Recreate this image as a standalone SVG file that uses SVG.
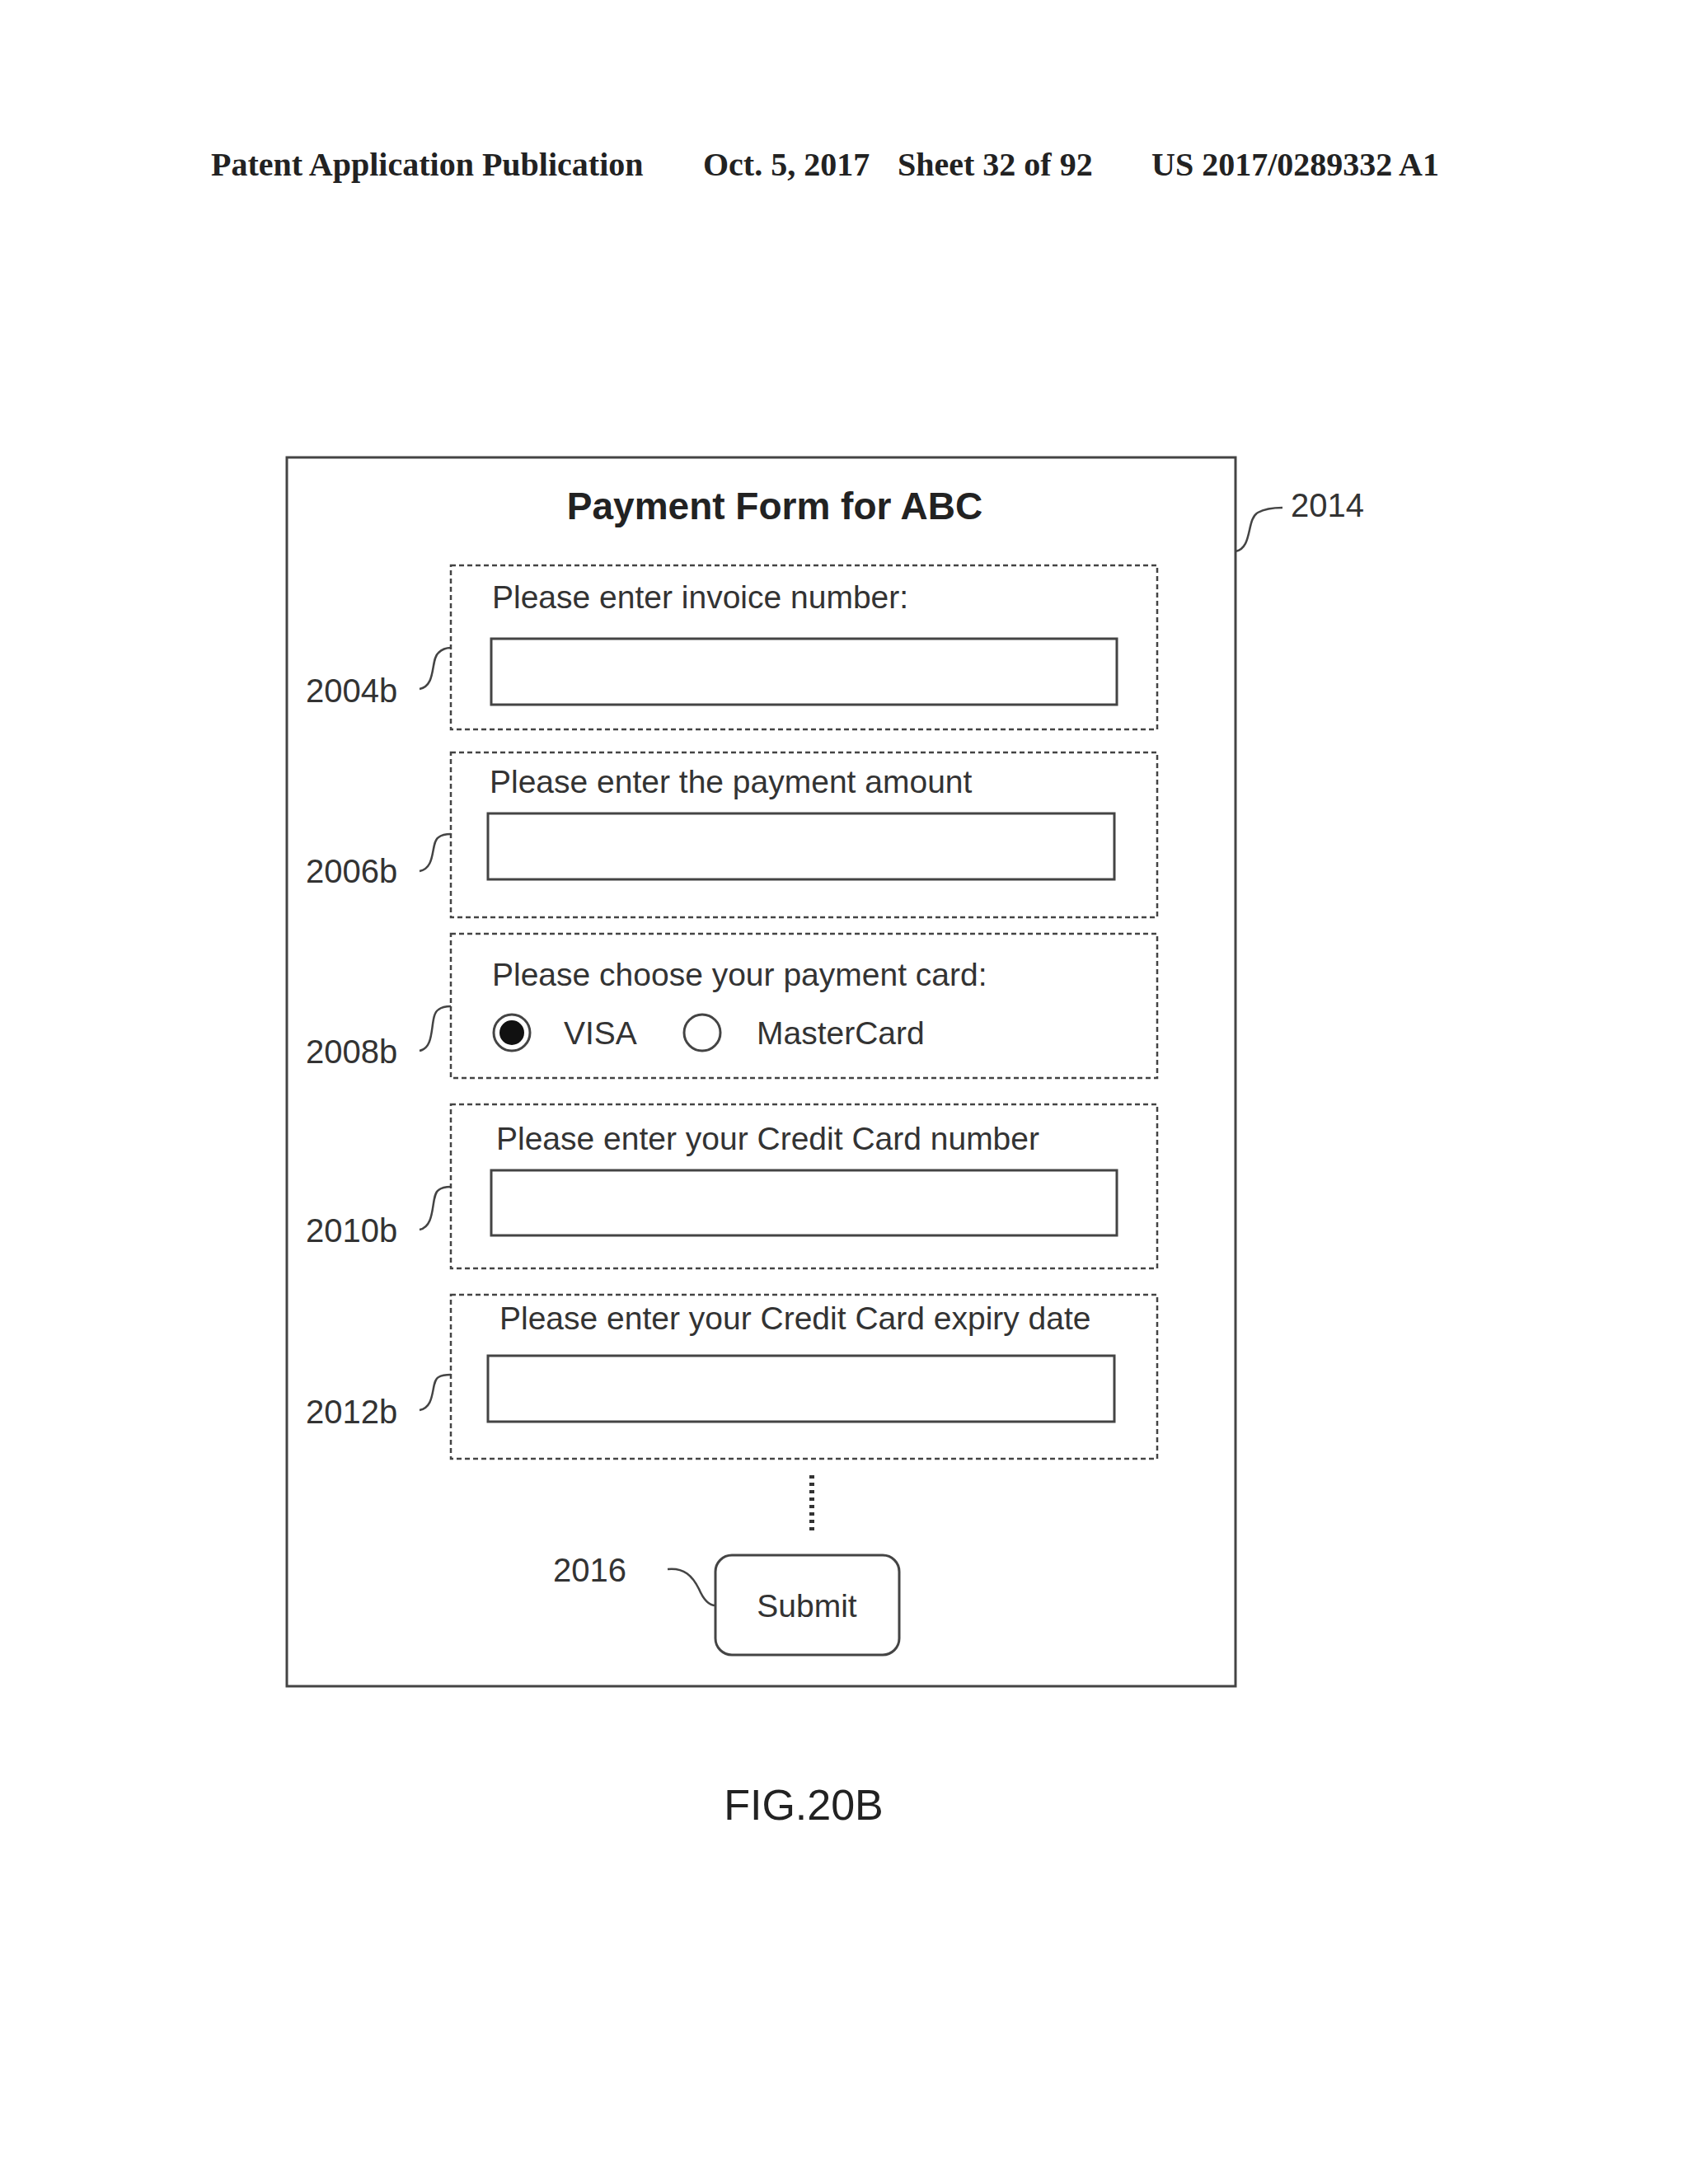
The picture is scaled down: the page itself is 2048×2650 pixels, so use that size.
<svg xmlns="http://www.w3.org/2000/svg" width="2048" height="2650" viewBox="0 0 2048 2650">
<style>
.hd{font-family:"Liberation Serif",serif;font-weight:bold;font-size:40px;fill:#222}
.t{font-family:"Liberation Sans",Arial,sans-serif;font-size:39px;fill:#333}
.n{font-family:"Liberation Sans",Arial,sans-serif;font-size:40px;fill:#333}
.dash{fill:none;stroke:#444;stroke-width:2.5;stroke-dasharray:6 4}
.box{fill:#fff;stroke:#444;stroke-width:3}
.sq{fill:none;stroke:#444;stroke-width:2.5}
</style>
<rect width="2048" height="2650" fill="#fff"/>
<text class="hd" x="256" y="213">Patent Application Publication</text>
<text class="hd" x="853" y="213">Oct. 5, 2017</text>
<text class="hd" x="1089" y="213">Sheet 32 of 92</text>
<text class="hd" x="1397" y="213">US 2017/0289332 A1</text>
<g id="form">
<rect x="348" y="555" width="1151" height="1491" fill="none" stroke="#444" stroke-width="3"/>
<text x="940" y="630" text-anchor="middle" font-family="Liberation Sans,Arial,sans-serif" font-weight="bold" font-size="46" fill="#222">Payment Form for ABC</text>
<text class="n" x="1566" y="627">2014</text>
</g>
<g id="f2004b">
<rect class="dash" x="547" y="686" width="857" height="199"/>
<text class="t" x="597" y="738">Please enter invoice number:</text>
<rect class="box" x="596" y="775" width="759" height="80"/>
<text class="n" x="371" y="852">2004b</text>
</g>
<g id="f2006b">
<rect class="dash" x="547" y="913" width="857" height="200"/>
<text class="t" x="594" y="962">Please enter the payment amount</text>
<rect class="box" x="592" y="987" width="760" height="80"/>
<text class="n" x="371" y="1071">2006b</text>
</g>
<g id="f2008b">
<rect class="dash" x="547" y="1133" width="857" height="175"/>
<text class="t" x="597" y="1196">Please choose your payment card:</text>
<circle cx="621" cy="1253" r="22" fill="#fff" stroke="#444" stroke-width="3"/>
<circle cx="621" cy="1253" r="15" fill="#111"/>
<text class="t" x="684" y="1267">VISA</text>
<circle cx="852" cy="1253" r="22" fill="#fff" stroke="#444" stroke-width="3"/>
<text class="t" x="918" y="1267">MasterCard</text>
<text class="n" x="371" y="1290">2008b</text>
</g>
<g id="f2010b">
<rect class="dash" x="547" y="1340" width="857" height="199"/>
<text class="t" x="602" y="1395">Please enter your Credit Card number</text>
<rect class="box" x="596" y="1420" width="759" height="79"/>
<text class="n" x="371" y="1507">2010b</text>
</g>
<g id="f2012b">
<rect class="dash" x="547" y="1571" width="857" height="199"/>
<text class="t" x="606" y="1613">Please enter your Credit Card expiry date</text>
<rect class="box" x="592" y="1645" width="760" height="80"/>
<text class="n" x="371" y="1727">2012b</text>
</g>
<g id="submit">
<rect x="868" y="1887" width="223" height="121" rx="20" fill="#fff" stroke="#444" stroke-width="3"/>
<text class="t" x="979" y="1962" text-anchor="middle">Submit</text>
<text class="n" x="671" y="1919">2016</text>
</g>
<g id="connectors">
<path class="sq" d="M509,836 C530,832 522,800 532,792 C537,787 542,786 547,786"/>
<path class="sq" d="M509,1057 C530,1053 522,1022 532,1016 C537,1012 542,1012 547,1012"/>
<path class="sq" d="M509,1275 C530,1271 520,1232 532,1225 C537,1221 542,1221 547,1221"/>
<path class="sq" d="M509,1492 C530,1488 522,1450 532,1444 C537,1440 542,1440 547,1440"/>
<path class="sq" d="M509,1711 C530,1707 522,1676 532,1671 C537,1668 542,1668 547,1668"/>
<path class="sq" d="M1499,669 C1520,665 1512,630 1526,622 C1535,617 1546,616 1556,616"/>
<path class="sq" d="M810,1904 C830,1902 840,1912 848,1928 C854,1942 860,1948 868,1948"/>
<line x1="985" y1="1790" x2="985" y2="1862" stroke="#333" stroke-width="6" stroke-dasharray="4 5"/>
</g>
<text x="975" y="2208" text-anchor="middle" font-family="Liberation Sans,Arial,sans-serif" font-size="52" fill="#222">FIG.20B</text>
</svg>
